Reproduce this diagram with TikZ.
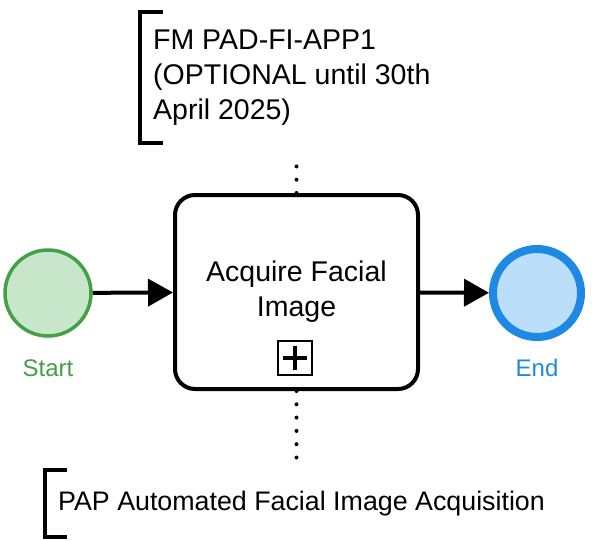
\documentclass[tikz,border=0pt]{standalone}
\usepackage{fontspec}
\setmainfont{Liberation Sans}
\usetikzlibrary{arrows.meta,positioning}

\definecolor{startline}{HTML}{43A047}
\definecolor{startfill}{HTML}{C8E6C9}
\definecolor{endline}{HTML}{1E88E5}
\definecolor{endfill}{HTML}{BBDEFB}

\tikzset{
  bigfont/.style={font=\fontsize{28.5}{35}\selectfont},
  lblfont/.style={font=\fontsize{24}{29}\selectfont},
  flow/.style={line width=4pt, -{Triangle[length=25pt,width=27pt]}},
  assoc/.style={line width=4pt, line cap=round, dash pattern=on 0pt off 13.3pt},
  bracket/.style={line width=4pt},
  note/.style={align=left, inner xsep=13pt, inner ysep=0pt, anchor=north west}
}

\begin{document}
\begin{tikzpicture}[x=1pt, y=-1pt]
    \useasboundingbox (0,0) rectangle (595,541);

    % events and task
    \node[circle, draw=startline, fill=startfill, line width=3.5pt, minimum size=86pt] (start) at (48,293) {};
    \node[circle, draw=endline, fill=endfill, line width=8pt, minimum size=88pt] (end) at (537,293) {};
    \node[draw, line width=4pt, rounded corners=20pt, minimum width=243pt, minimum height=194pt,
          align=center, bigfont] (task) at (296.5,292) {Acquire Facial\\Image};
    \node[lblfont, text=startline] (startlbl) at (48,368) {Start};
    \node[lblfont, text=endline] (endlbl) at (537,368) {End};

    % subprocess marker
    \node[draw, line width=2pt, minimum size=34pt, inner sep=0pt] (marker) at (295,358) {};
    \draw[line width=4pt] ([xshift=6pt]marker.west) -- ([xshift=-6pt]marker.east);
    \draw[line width=4pt] ([yshift=-6pt]marker.north) -- ([yshift=6pt]marker.south);

    % sequence flows
    \draw[flow] (start) -- (task);
    \draw[flow] (task) -- (end);

    % annotations
    \node[note, bigfont, minimum height=131pt] (notetop) at (140,12)
        {FM PAD-FI-APP1\\(OPTIONAL until 30th\\April 2025)};
    \draw[bracket] ([xshift=23pt]notetop.north west) -- (notetop.north west)
        -- (notetop.south west) -- ([xshift=23pt]notetop.south west);
    \node[note, font=\fontsize{26.8}{32}\selectfont, minimum height=67pt] (notebot) at (45,470)
        {PAP Automated Facial Image Acquisition};
    \draw[bracket] ([xshift=22pt]notebot.north west) -- (notebot.north west)
        -- (notebot.south west) -- ([xshift=22pt]notebot.south west);

    % associations
    \coordinate (topend) at ([yshift=-12pt]task.north |- notetop.south);
    \draw[assoc] (task.north) -- (topend);
    \draw[assoc] (task.south) -- (task.south |- notebot.north);
\end{tikzpicture}
\end{document}
